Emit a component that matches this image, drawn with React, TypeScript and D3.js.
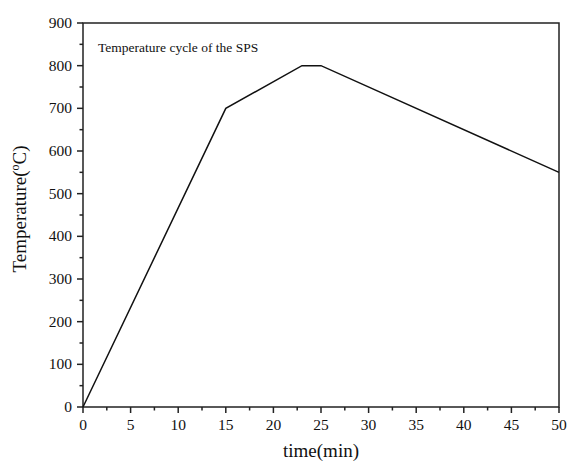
import React from "react";
import * as d3 from "d3";

const timeMin = [0, 15, 23, 25, 50];
const tempC = [0, 700, 800, 800, 550];
const xTicks = [0, 5, 10, 15, 20, 25, 30, 35, 40, 45, 50];
const yTicks = [0, 100, 200, 300, 400, 500, 600, 700, 800, 900];
const xMinor = [2.5, 7.5, 12.5, 17.5, 22.5, 27.5, 32.5, 37.5, 42.5, 47.5];
const yMinor = [50, 150, 250, 350, 450, 550, 650, 750, 850];
const annotation = "Temperature cycle of the SPS";

export default function App() {
  const W = 569, H = 465;
  const L = 83, R = 559, T = 23, B = 407;
  const x = d3.scaleLinear().domain([0, 50]).range([L, R]);
  const y = d3.scaleLinear().domain([0, 900]).range([B, T]);
  const line = d3.line<number>().x((_, i) => x(timeMin[i])).y((d) => y(d));
  const font = "'Liberation Serif', 'Times New Roman', serif";
  return (
    <svg width={W} height={H} style={{ position: "absolute", left: 0, top: 0, background: "#fff" }} fontFamily={font}>
      <rect x={0} y={0} width={W} height={H} fill="#fff" />
      <rect x={L} y={T} width={R - L} height={B - T} fill="none" stroke="#222" strokeWidth={1.5} />
      {xTicks.map((t) => (
        <g key={"x" + t}>
          <line x1={x(t)} x2={x(t)} y1={B} y2={B + 6} stroke="#222" strokeWidth={1.5} />
          <text x={x(t)} y={B + 23} fontSize={15.5} textAnchor="middle" fill="#111">{t}</text>
        </g>
      ))}
      {xMinor.map((t) => (
        <line key={"xm" + t} x1={x(t)} x2={x(t)} y1={B} y2={B + 3.5} stroke="#222" strokeWidth={1.5} />
      ))}
      {yTicks.map((t) => (
        <g key={"y" + t}>
          <line x1={L - 6} x2={L} y1={y(t)} y2={y(t)} stroke="#222" strokeWidth={1.5} />
          <text x={L - 11} y={y(t) + 5} fontSize={15.5} textAnchor="end" fill="#111">{t}</text>
        </g>
      ))}
      {yMinor.map((t) => (
        <line key={"ym" + t} x1={L - 3.5} x2={L} y1={y(t)} y2={y(t)} stroke="#222" strokeWidth={1.5} />
      ))}
      <path d={line(tempC) || ""} fill="none" stroke="#111" strokeWidth={1.5} />
      <text x={98} y={52} fontSize={13.5} fill="#111">{annotation}</text>
      <text x={(L + R) / 2} y={457} fontSize={19} textAnchor="middle" fill="#111">time(min)</text>
      <text transform={`translate(26, 209) rotate(-90)`} fontSize={19} textAnchor="middle" fill="#111">
        Temperature(<tspan fontSize={12} dy={-7}>o</tspan><tspan dy={7}>C)</tspan>
      </text>
    </svg>
  );
}
